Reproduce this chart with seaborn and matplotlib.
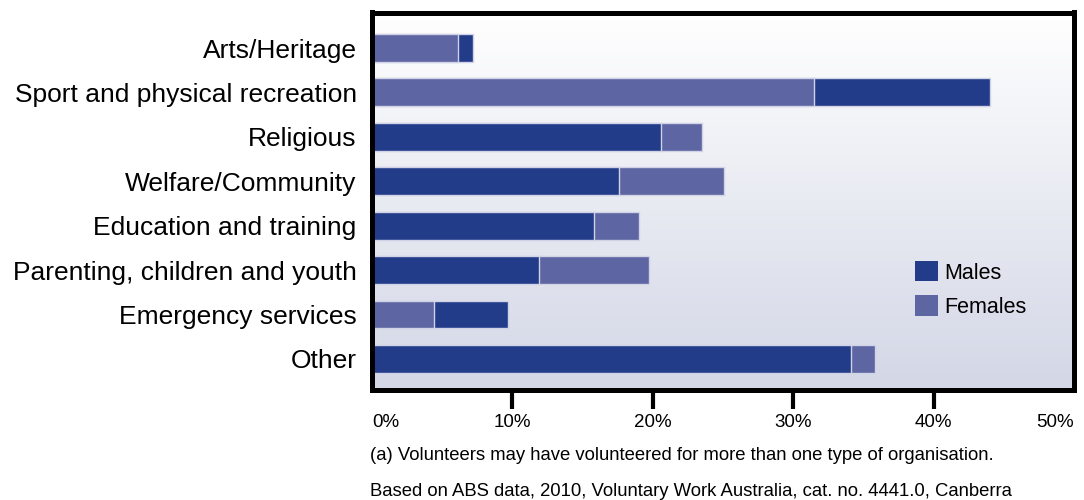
import numpy as np
import pandas as pd
import matplotlib
matplotlib.use("Agg")
import matplotlib.pyplot as plt
import seaborn as sns
from matplotlib.patches import Patch

categories = ["Arts/Heritage", "Sport and physical recreation", "Religious",
              "Welfare/Community", "Education and training",
              "Parenting, children and youth", "Emergency services", "Other"]
males = [7.2, 44.0, 20.6, 17.6, 15.8, 11.9, 9.7, 34.1]
females = [6.1, 31.5, 23.5, 25.1, 19.0, 19.7, 4.4, 35.8]
tick_values = [0, 10, 20, 30, 40, 50]
tick_labels = ["0%", "10%", "20%", "30%", "40%", "50%"]
tick_marks = [10, 20, 30, 40]
note1 = "(a) Volunteers may have volunteered for more than one type of organisation."
note2 = "Based on ABS data, 2010, Voluntary Work Australia, cat. no. 4441.0, Canberra"

MALE_C = "#233c8a"
FEMALE_C = "#5e65a3"

sns.set_theme(style="white")
plt.rcParams['font.family'] = ['Liberation Sans', 'DejaVu Sans']
plt.rcParams['text.color'] = 'black'
plt.rcParams['xtick.color'] = 'black'
plt.rcParams['ytick.color'] = 'black'
plt.rcParams['axes.labelcolor'] = 'black'

df_m = pd.DataFrame({"cat": categories, "val": males})
df_f = pd.DataFrame({"cat": categories, "val": females})

fig = plt.figure(figsize=(10.84, 5.0), dpi=100)
ax = fig.add_axes([372/1084, 1 - 390/500, (1074-372)/1084, (390-12.5)/500])

sns.barplot(data=df_m, x="val", y="cat", orient="y", color=MALE_C, width=0.63,
            saturation=1, edgecolor="#d0d3e6", linewidth=1.0, ax=ax)
n = len(categories)
sns.barplot(data=df_f, x="val", y="cat", orient="y", color=FEMALE_C, width=0.63,
            saturation=1, edgecolor="#d0d3e6", linewidth=1.0, ax=ax)

# shorter bar of each pair drawn in front
patches = ax.patches
for i in range(n):
    pm, pf = patches[i], patches[n + i]
    if pm.get_width() < pf.get_width():
        pm.set_zorder(4); pf.set_zorder(3)
    else:
        pm.set_zorder(3); pf.set_zorder(4)

# gradient background
grad = np.linspace(0, 1, 256)
top = np.array([1.0, 1.0, 1.0])
bot = np.array([0xd3, 0xd7, 0xe6]) / 255
img = top[None, None, :] + (bot - top)[None, None, :] * grad[:, None, None]
ax.imshow(img, extent=[0, 50, 7.7, -0.8], aspect="auto", zorder=0, interpolation="bilinear")
ax.set_xlim(0, 50)
ax.set_ylim(7.7, -0.8)

ax.set_xlabel("")
ax.set_ylabel("")
ax.set_xticks(tick_values)
ax.set_xticklabels(tick_labels, fontsize=13.5, color="black")
lbls = ax.get_xticklabels()
lbls[0].set_horizontalalignment("left")
lbls[-1].set_horizontalalignment("right")
ax.tick_params(axis="x", which="major", bottom=True, length=0, pad=17)
# downward tick marks below the frame
ax.vlines(tick_marks, 0, -0.05, transform=ax.get_xaxis_transform(), colors="black",
          linewidth=3, clip_on=False, zorder=10)
ax.tick_params(axis="y", length=0, pad=11, labelsize=19, labelcolor="black")
for s in ax.spines.values():
    s.set_visible(True)
    s.set_color("black")
    s.set_linewidth(3.6)
    s.set_zorder(10)

handles = [Patch(facecolor=MALE_C, edgecolor="none", label="Males"),
           Patch(facecolor=FEMALE_C, edgecolor="none", label="Females")]
ax.legend(handles=handles, loc="lower left", bbox_to_anchor=(0.773, 0.191), frameon=False,
          fontsize=15.5, handlelength=1.07, handleheight=1.07, handletextpad=0.3,
          labelspacing=0.55, borderaxespad=0, borderpad=0, labelcolor="black")

fig.text(370/1084, 1 - 455/500, note1, fontsize=13.3, va="center", ha="left", color="black")
fig.text(370/1084, 1 - 491/500, note2, fontsize=13.3, va="center", ha="left", color="black")

fig.savefig("out.png", dpi=100)
